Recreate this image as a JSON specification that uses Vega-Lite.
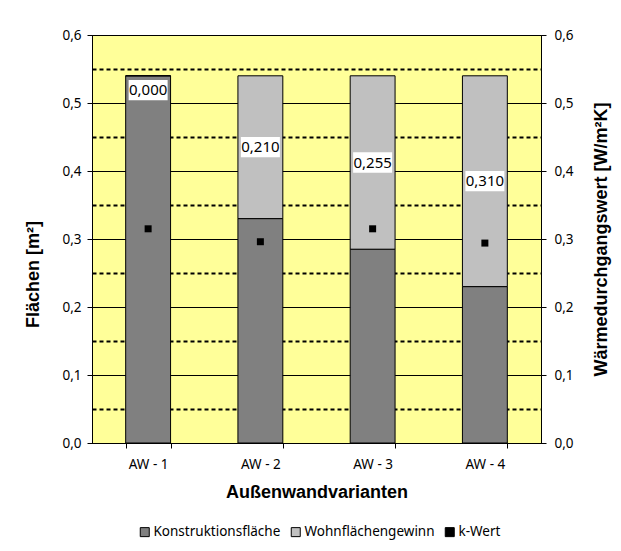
{
  "$schema": "https://vega.github.io/schema/vega-lite/v6.json",
  "autosize": {"type": "none"},
  "padding": {"left": 92, "top": 35, "right": 80, "bottom": 108},
  "width": 449,
  "height": 408,
  "background": "white",
  "config": {
    "view": {"fill": "#FFFF99", "stroke": "#000000", "strokeWidth": 1},
    "axis": {
      "labelFont": "Noto Sans", "labelFontSize": 13.5, "labelColor": "#000000",
      "titleFont": "Liberation Sans", "titleFontSize": 18, "titleFontWeight": "bold", "titleColor": "#000000",
      "domainColor": "#000000", "tickColor": "#000000"
    }
  },
  "datasets": {
    "flaechen": [
      {"variante": "AW - 1", "typ": "Konstruktionsfläche", "wert": 0.54},
      {"variante": "AW - 1", "typ": "Wohnflächengewinn", "wert": 0.0},
      {"variante": "AW - 2", "typ": "Konstruktionsfläche", "wert": 0.33},
      {"variante": "AW - 2", "typ": "Wohnflächengewinn", "wert": 0.21},
      {"variante": "AW - 3", "typ": "Konstruktionsfläche", "wert": 0.285},
      {"variante": "AW - 3", "typ": "Wohnflächengewinn", "wert": 0.255},
      {"variante": "AW - 4", "typ": "Konstruktionsfläche", "wert": 0.23},
      {"variante": "AW - 4", "typ": "Wohnflächengewinn", "wert": 0.31}
    ],
    "kwert": [
      {"variante": "AW - 1", "k": 0.315},
      {"variante": "AW - 2", "k": 0.296},
      {"variante": "AW - 3", "k": 0.315},
      {"variante": "AW - 4", "k": 0.294}
    ]
  },
  "resolve": {"scale": {"y": "independent"}},
  "layer": [
    {
      "data": {"name": "flaechen"},
      "mark": {"type": "bar", "stroke": "#000000", "strokeWidth": 1},
      "encoding": {
        "x": {
          "field": "variante", "type": "nominal",
          "scale": {"paddingInner": 0.6, "paddingOuter": 0.3},
          "axis": {"title": "Außenwandvarianten", "labelAngle": 0, "tickBand": "extent", "tickSize": 5, "labelPadding": 9, "titlePadding": 13}
        },
        "y": {
          "field": "wert", "type": "quantitative", "stack": "zero",
          "scale": {"domain": [0, 0.6], "nice": false},
          "axis": {
            "title": "Flächen [m²]", "titleY": 239,
            "values": [0, 0.05, 0.1, 0.15, 0.2, 0.25, 0.3, 0.35, 0.4, 0.45, 0.5, 0.55, 0.6],
            "labelExpr": "round(datum.value*100)%10==0 ? replace(format(datum.value,'.1f'),'.',',') : ''",
            "grid": true,
            "gridColor": "#000000",
            "gridOpacity": 1,
            "gridWidth": {"condition": {"test": "round(datum.value*100)%10==5", "value": 2}, "value": 1},
            "gridDash": {"condition": {"test": "round(datum.value*100)%10==5", "value": [4, 3]}, "value": []},
            "tickOpacity": {"condition": {"test": "round(datum.value*100)%10==5", "value": 0}, "value": 1},
            "tickSize": 5, "labelPadding": 6, "titlePadding": 19
          }
        },
        "order": {"field": "typ", "type": "nominal", "sort": "ascending"},
        "color": {
          "field": "typ", "type": "nominal",
          "scale": {"domain": ["Konstruktionsfläche", "Wohnflächengewinn", "k-Wert"], "range": ["#808080", "#C0C0C0", "#000000"]},
          "legend": {
            "orient": "none", "legendX": 46, "legendY": 490, "direction": "horizontal", "title": null,
            "symbolType": "square", "symbolSize": 81, "symbolStrokeColor": "#000000", "symbolStrokeWidth": 1,
            "labelFont": "Noto Sans", "labelFontSize": 13.5, "labelColor": "#000000", "columnPadding": 8, "labelOffset": 2
          }
        }
      }
    },
    {
      "data": {"name": "flaechen"},
      "transform": [
        {"stack": "wert", "groupby": ["variante"], "sort": [{"field": "typ"}], "as": ["y0", "y1"]},
        {"filter": "datum.typ == 'Wohnflächengewinn'"},
        {"calculate": "min((datum.y0+datum.y1)/2, 0.519)", "as": "ymid"}
      ],
      "mark": {"type": "point", "shape": "M-1,-0.52H1V0.52H-1Z", "filled": true, "color": "#FFFFFF", "opacity": 1, "size": 1521},
      "encoding": {
        "x": {"field": "variante", "type": "nominal"},
        "y": {"field": "ymid", "type": "quantitative", "scale": {"domain": [0, 0.6], "nice": false}, "axis": null}
      }
    },
    {
      "data": {"name": "flaechen"},
      "transform": [
        {"stack": "wert", "groupby": ["variante"], "sort": [{"field": "typ"}], "as": ["y0", "y1"]},
        {"filter": "datum.typ == 'Wohnflächengewinn'"},
        {"calculate": "min((datum.y0+datum.y1)/2, 0.519)", "as": "ymid"},
        {"calculate": "replace(format(datum.wert,'.3f'),'.',',')", "as": "label"}
      ],
      "mark": {"type": "text", "font": "Noto Sans", "fontSize": 15, "color": "#000000", "align": "center", "baseline": "middle"},
      "encoding": {
        "x": {"field": "variante", "type": "nominal"},
        "y": {"field": "ymid", "type": "quantitative", "scale": {"domain": [0, 0.6], "nice": false}, "axis": null},
        "text": {"field": "label", "type": "nominal"}
      }
    },
    {
      "data": {"name": "kwert"},
      "mark": {"type": "point", "shape": "square", "filled": true, "opacity": 1, "size": 49},
      "encoding": {
        "x": {"field": "variante", "type": "nominal"},
        "y": {
          "field": "k", "type": "quantitative",
          "scale": {"domain": [0, 0.6], "nice": false},
          "axis": {
            "orient": "right", "title": "Wärmedurchgangswert [W/m²K]", "titleAngle": 270,
            "values": [0, 0.1, 0.2, 0.3, 0.4, 0.5, 0.6],
            "labelExpr": "replace(format(datum.value,'.1f'),'.',',')",
            "grid": false, "tickSize": 5, "labelPadding": 8, "titlePadding": 37
          }
        },
        "color": {"datum": "k-Wert"}
      }
    }
  ]
}
